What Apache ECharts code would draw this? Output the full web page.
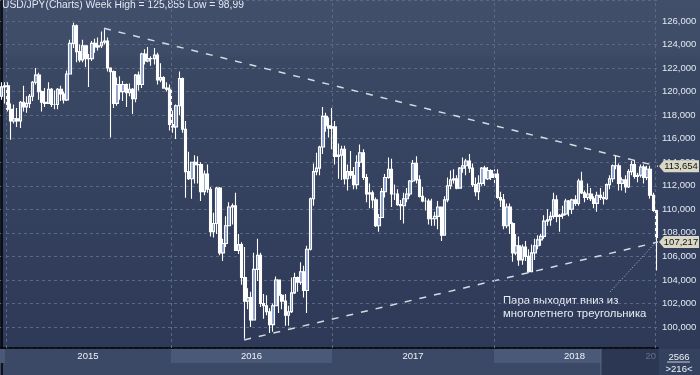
<!DOCTYPE html>
<html><head><meta charset="utf-8">
<script src="https://cdn.jsdelivr.net/npm/echarts@6/dist/echarts.min.js"></script>
<style>html,body{margin:0;padding:0;background:#34405c}#c{width:700px;height:375px}</style>
</head><body><div id="c"></div><script>
// ---- data (weekly USD/JPY, week ending Fri 2014-12-26 .. 2019-01-04) ----
const opens = [
119.6,120.4,120.5,118.5,117.5,117.7,117.5,119.1,118.7,119.0,
119.6,120.8,121.4,120.0,119.1,119.0,120.2,118.9,118.9,120.2,
119.8,119.3,121.5,124.1,125.6,123.4,122.7,123.9,122.8,122.8,
124.1,123.8,123.9,124.2,124.3,122.0,121.7,119.0,120.6,120.0,
120.6,119.9,120.2,119.4,121.4,120.6,123.2,122.6,122.8,122.8,
123.1,121.0,121.2,120.3,120.2,117.2,117.0,118.8,121.1,116.8,
113.2,112.6,114.0,113.8,113.8,111.5,113.0,111.7,108.1,108.8,
111.8,106.3,107.1,108.6,110.2,110.3,106.5,107.0,104.2,102.2,
102.5,100.6,104.9,106.1,102.0,101.8,101.3,100.2,101.8,104.0,
102.7,102.2,101.0,101.3,102.9,104.2,103.8,104.7,103.1,106.6,
110.9,113.2,113.5,115.3,117.9,117.1,116.9,117.0,114.5,114.6,
115.1,112.6,113.2,112.9,112.1,114.0,114.8,112.7,111.3,111.4,
110.8,108.6,109.3,111.5,112.7,113.4,111.3,111.3,110.4,110.3,
110.9,111.3,112.4,113.9,112.5,111.1,110.7,110.7,109.2,109.2,
109.4,110.2,107.8,110.8,112.0,112.5,112.6,111.8,113.5,113.7,
114.1,113.5,112.1,111.5,112.2,113.5,112.6,113.3,112.7,113.0,
111.0,110.8,108.6,110.2,108.8,106.3,106.9,105.7,106.8,106.0,
104.7,106.3,106.9,107.4,107.7,109.0,109.1,109.4,110.8,109.4,
109.5,109.6,110.7,110.0,110.8,110.5,112.4,111.4,111.0,111.3,
110.9,110.5,111.2,111.0,110.9,112.1,112.6,113.7,113.7,112.2,
112.5,111.9,113.2,113.8,112.8,112.9,113.6,112.7,113.4,111.2,
109.9];
const closes = [
120.4,120.5,118.5,117.5,117.7,117.5,119.1,118.7,119.0,119.6,
120.8,121.4,120.0,119.1,119.0,120.2,118.9,118.9,120.2,119.8,
119.3,121.5,124.1,125.6,123.4,122.7,123.9,122.8,122.8,124.1,
123.8,123.9,124.2,124.3,122.0,121.7,119.0,120.6,120.0,120.6,
119.9,120.2,119.4,121.4,120.6,123.2,122.6,122.8,122.8,123.1,
121.0,121.2,120.3,120.2,117.2,117.0,118.8,121.1,116.8,113.2,
112.6,114.0,113.8,113.8,111.5,113.0,111.7,108.1,108.8,111.8,
106.3,107.1,108.6,110.2,110.3,106.5,107.0,104.2,102.2,102.5,
100.6,104.9,106.1,102.0,101.8,101.3,100.2,101.8,104.0,102.7,
102.2,101.0,101.3,102.9,104.2,103.8,104.7,103.1,106.6,110.9,
113.2,113.5,115.3,117.9,117.1,116.9,117.0,114.5,114.6,115.1,
112.6,113.2,112.9,112.1,114.0,114.8,112.7,111.3,111.4,110.8,
108.6,109.3,111.5,112.7,113.4,111.3,111.3,110.4,110.3,110.9,
111.3,112.4,113.9,112.5,111.1,110.7,110.7,109.2,109.2,109.4,
110.2,107.8,110.8,112.0,112.5,112.6,111.8,113.5,113.7,114.1,
113.5,112.1,111.5,112.2,113.5,112.6,113.3,112.7,113.0,111.0,
110.8,108.6,110.2,108.8,106.3,106.9,105.7,106.8,106.0,104.7,
106.3,106.9,107.4,107.7,109.0,109.1,109.4,110.8,109.4,109.5,
109.6,110.7,110.0,110.8,110.5,112.4,111.4,111.0,111.3,110.9,
110.5,111.2,111.0,110.9,112.1,112.6,113.7,113.7,112.2,112.5,
111.9,113.2,113.8,112.8,112.9,113.6,112.7,113.4,111.2,109.9,
107.6];
const highs = [
120.8,120.8,120.8,119.0,118.9,118.6,119.2,120.5,119.6,119.8,
120.9,122.0,121.6,120.1,120.3,120.8,120.3,120.1,120.3,120.5,
120.0,121.8,124.4,125.86,125.7,124.0,124.4,123.9,123.2,124.3,
124.5,124.6,125.1,125.3,124.6,122.0,121.8,121.2,121.3,120.9,
120.7,120.7,120.3,121.5,121.7,123.3,123.6,123.8,123.0,123.7,
123.3,122.4,121.3,120.8,120.6,118.4,118.9,121.7,121.2,117.5,
114.9,114.0,114.6,114.5,114.0,113.3,113.8,111.9,109.7,111.9,
111.9,107.5,109.4,110.6,110.5,111.4,107.9,107.2,106.8,103.3,
103.0,106.3,107.5,106.3,102.8,102.7,101.6,102.0,104.3,104.0,
102.8,102.8,101.8,104.2,104.6,104.3,105.5,105.2,106.9,111.0,
113.9,114.8,115.4,118.7,118.2,117.8,118.6,117.5,115.6,115.4,
115.4,113.8,114.95,113.6,114.6,115.5,115.1,113.0,112.2,111.6,
111.0,109.6,111.8,113.0,114.4,114.3,112.1,111.7,110.8,111.4,
111.8,112.5,114.2,114.5,112.9,111.9,111.0,110.9,110.9,109.8,
110.7,110.2,111.1,112.7,113.3,113.4,112.9,113.6,114.4,114.3,
114.7,113.9,112.7,112.9,113.6,113.7,113.6,113.4,113.4,113.4,
111.5,111.3,110.5,110.5,108.9,107.9,107.7,107.0,107.3,106.6,
107.0,107.5,107.8,107.9,109.5,110.0,109.8,111.4,111.2,109.6,
110.3,110.9,110.8,110.9,111.2,112.6,113.2,111.6,112.2,111.8,
111.1,111.5,111.8,111.5,112.2,112.9,113.8,114.55,113.9,112.7,
112.9,113.4,114.1,114.2,113.1,113.8,113.8,113.7,113.7,111.4,
109.9];
const lows = [
119.3,119.0,118.3,115.9,117.3,117.0,116.9,118.3,118.2,118.6,
119.2,120.6,119.3,118.3,118.7,119.0,118.7,118.5,118.5,119.2,
119.0,119.2,121.5,123.7,122.5,122.5,122.5,122.1,120.4,122.6,
123.3,123.5,123.7,124.0,121.7,116.1,118.6,118.8,119.3,119.2,
118.7,119.6,118.1,119.1,120.1,120.3,122.3,122.5,122.2,122.3,
120.6,120.8,120.3,120.0,116.7,116.5,115.97,118.0,116.5,110.98,
112.5,110.9,112.2,112.2,110.7,111.2,111.4,107.7,107.6,107.9,
106.1,105.6,106.8,108.6,108.7,106.5,106.2,103.6,99.0,101.5,
99.99,100.6,103.9,101.7,100.7,101.0,99.5,99.6,101.8,101.2,
101.5,100.1,100.1,101.2,102.8,103.0,103.6,102.5,101.2,106.5,
110.3,112.9,112.9,114.7,116.6,116.1,115.1,113.8,112.6,112.5,
112.1,111.6,112.6,111.7,111.7,113.6,112.5,110.6,110.1,110.1,
108.5,108.1,109.3,111.0,112.6,110.2,110.8,110.3,109.1,108.8,
110.6,111.1,112.3,112.2,111.0,110.6,109.9,108.7,108.6,108.6,
108.3,107.3,107.8,110.6,111.7,112.2,111.7,111.8,113.1,112.9,
113.1,111.9,111.1,110.8,112.0,112.0,112.5,112.5,112.1,110.9,
110.2,108.3,108.4,107.9,105.55,106.1,105.2,105.3,105.6,104.6,
104.7,105.7,106.6,106.9,107.5,108.6,108.6,109.2,108.9,108.1,
109.2,109.5,109.4,109.6,110.3,110.3,111.3,110.6,110.8,110.7,
110.1,109.8,110.8,110.4,110.8,111.7,112.3,113.4,111.6,111.6,
111.4,111.8,112.9,112.6,112.3,112.7,112.2,112.5,110.9,109.8,
104.8];

// trend lines: [week index, price]
const upperLine = [[32.85, 125.38], [210.5, 113.654]];
const lowerLine = [[77.8, 98.9], [210.5, 107.217]];
const pointerLine = [[195.1, 102.97], [209.8, 107.2]];
// year separators (week index) and bottom time-scale bands
const yearGrid = [1.4, 54.3, 106.0, 157.9, 209.6];
const bandLabels = ['', '2015', '2016', '2017', '2018'];
const bandStart = [-0.5, 1.1, 54.3, 106.0, 157.9];
const bandEnd   = [1.1, 54.3, 106.0, 157.9, 209.6];
const shade = [192.3, 210.5];
const shadeLabel = '20';
const yMin = 98.216, yMax = 127.784;
const titleText = 'USD/JPY(Charts) Week High = 125,855 Low = 98,99';
const noteText = 'Пара выходит вниз из\nмноголетнего треугольника';
const cornerTop = '2566', cornerBottom = '>216<';

// category labels (weekly)
const weeks = [];
for (let i = 0; i < closes.length; i++) {
  const d = new Date(Date.UTC(2014, 11, 26) + i * 7 * 86400000);
  weeks.push(d.toISOString().slice(0, 10));
}
const ohlc = closes.map((c, i) => [opens[i], c, lows[i], highs[i]]);
const fmt = v => v.toFixed(3).replace('.', ',');

const FONT = "'Liberation Sans', Arial, sans-serif";
const chart = echarts.init(document.getElementById('c'), null, {renderer: 'canvas'});
const badgePath = 'path://M0,6L5,0L40,0L40,12L5,12Z';
function badge(pt) {
  return {
    symbol: badgePath, symbolSize: [40, 12], symbolOffset: [21, 0], silent: true,
    itemStyle: {color: '#d9d8c6'},
    label: {show: true, position: 'inside', offset: [2, 0], color: '#111', fontSize: 9.5, fontFamily: FONT,
      formatter: () => fmt(pt[1])},
    data: [{coord: pt}]
  };
}

chart.setOption({
  animation: false,
  backgroundColor: {type: 'linear', x: 0, y: 0, x2: 0, y2: 1, colorStops: [
    {offset: 0, color: '#424f6b'}, {offset: 0.14, color: '#3f4c68'},
    {offset: 0.16, color: '#3b4864'}, {offset: 1, color: '#2c3856'}]},
  grid: [
    {left: 0, right: 42, top: 0, height: 348},
    {left: 0, right: 42, top: 349, height: 26}
  ],
  xAxis: [
    {type: 'category', gridIndex: 0, data: weeks, boundaryGap: true,
      axisLine: {show: true, lineStyle: {color: '#000', width: 1.5}},
      axisTick: {show: false}, axisLabel: {show: false}, splitLine: {show: false}},
    {type: 'value', gridIndex: 0, min: -0.5, max: 210.5, show: false},
    {type: 'value', gridIndex: 1, min: -0.5, max: 210.5, show: false}
  ],
  yAxis: [
    {type: 'value', gridIndex: 0, position: 'right', min: yMin, max: yMax, splitNumber: 15,
      axisLine: {show: true, lineStyle: {color: '#000', width: 1.5}},
      axisTick: {show: false},
      axisLabel: {color: '#e3e8f2', fontSize: 9.5, fontFamily: FONT, margin: 4,
        showMinLabel: false, showMaxLabel: false, formatter: v => fmt(v)},
      splitLine: {show: true, lineStyle: {color: '#5b6884', width: 1, type: [3, 3]}}},
    {type: 'value', gridIndex: 1, position: 'right', min: 0, max: 1,
      axisLine: {show: true, lineStyle: {color: '#000', width: 1.5}},
      axisTick: {show: false}, axisLabel: {show: false}, splitLine: {show: false}}
  ],
  series: [
    {type: 'line', xAxisIndex: 1, yAxisIndex: 0, data: [], silent: true,
      markLine: {silent: true, symbol: 'none', label: {show: false},
        lineStyle: {color: '#5b6884', width: 1, type: [3, 3]},
        data: yearGrid.map(v => ({xAxis: v}))}},
    {type: 'candlestick', xAxisIndex: 0, yAxisIndex: 0, data: ohlc, barWidth: 3,
      itemStyle: {color: '#8da3cf', color0: '#ffffff', borderColor: '#ffffff', borderColor0: '#ffffff', borderWidth: 1.1}},
    Object.assign({type: 'line', xAxisIndex: 1, yAxisIndex: 0, data: upperLine, symbol: 'none', silent: true,
      lineStyle: {color: '#d6d9e0', width: 1.5, type: [7, 8]}}, {markPoint: badge(upperLine[1])}),
    Object.assign({type: 'line', xAxisIndex: 1, yAxisIndex: 0, data: lowerLine, symbol: 'none', silent: true,
      lineStyle: {color: '#d6d9e0', width: 1.5, type: [7, 8]}}, {markPoint: badge(lowerLine[1])}),
    {type: 'line', xAxisIndex: 1, yAxisIndex: 0, data: pointerLine, symbol: 'none', silent: true,
      lineStyle: {color: '#b9bfcc', width: 1, type: [1, 2]}},
    {type: 'custom', xAxisIndex: 2, yAxisIndex: 1, silent: true,
      data: bandLabels.map((l, i) => [bandStart[i], bandEnd[i], i]),
      renderItem: (params, api) => {
        const cs = params.coordSys;
        const i = api.value(2);
        const x0 = api.coord([api.value(0), 0])[0];
        const x1 = api.coord([api.value(1), 0])[0];
        const children = [{type: 'rect', shape: {x: x0, y: cs.y, width: x1 - x0, height: 14},
          style: {fill: (i % 2 === 0) ? '#4b5979' : '#3b4966'}}];
        if (bandLabels[i]) children.push({type: 'text', style: {text: bandLabels[i], x: (x0 + x1) / 2, y: cs.y + 7.5,
          align: 'center', verticalAlign: 'middle', fill: '#eef1f7', fontSize: 9.5, fontFamily: FONT}});
        if (i === bandLabels.length - 1) {
          const s0 = api.coord([shade[0], 0])[0], s1 = api.coord([shade[1], 0])[0];
          children.push({type: 'rect', shape: {x: s0, y: cs.y, width: s1 - s0, height: cs.height}, style: {fill: '#2c3754'}});
          children.push({type: 'rect', shape: {x: s0 - 1, y: cs.y, width: 1.2, height: cs.height}, style: {fill: '#56627c'}});
          children.push({type: 'text', style: {text: shadeLabel, x: s1 - 2, y: cs.y + 7.5, align: 'right',
            verticalAlign: 'middle', fill: '#66728e', fontSize: 9.5, fontFamily: FONT}});
        }
        return {type: 'group', children};
      }}
  ],
  graphic: [
    {type: 'rect', left: 0, top: 349, shape: {width: 658, height: 26}, style: {fill: '#3b4966'}, z: -1},
    {type: 'rect', left: 659, top: 349, shape: {width: 41, height: 26}, style: {fill: '#35425f'}, z: -1},
    {type: 'rect', left: 0, top: 0, shape: {width: 1.2, height: 348}, style: {fill: '#141c2c'}},
    {type: 'text', left: 2, top: 0, style: {text: titleText, fill: '#e3e8f1', fontSize: 10.3, fontFamily: FONT}},
    {type: 'text', left: 503, top: 294, style: {text: noteText, fill: '#e8ecf3', fontSize: 11.3, lineHeight: 13.5, fontFamily: FONT}},
    {type: 'text', x: 679, y: 357, style: {text: cornerTop, align: 'center', verticalAlign: 'middle', fill: '#eef1f7', fontSize: 9.5, fontFamily: FONT}},
    {type: 'line', shape: {x1: 667, y1: 362, x2: 690, y2: 362}, style: {stroke: '#c8cfdc', lineWidth: 1}},
    {type: 'text', x: 679, y: 369, style: {text: cornerBottom, align: 'center', verticalAlign: 'middle', fill: '#eef1f7', fontSize: 9.5, fontFamily: FONT}}
  ]
});
</script></body></html>
